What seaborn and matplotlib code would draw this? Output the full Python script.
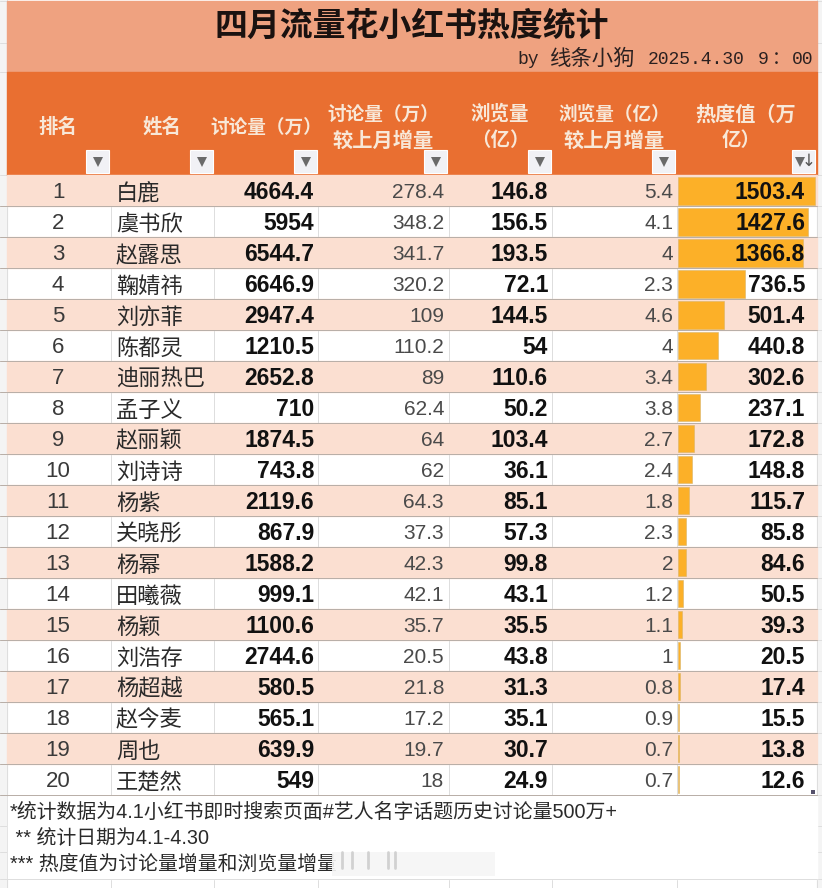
from matplotlib import pyplot as plt
from matplotlib import transforms
from matplotlib.patches import Rectangle
import seaborn as sns
import numpy as np

sns.set_theme(style='white')
CJK = ['Liberation Sans', 'Noto Sans CJK SC']
plt.rcParams['font.family'] = CJK

ranks = list(range(1, 21))
names = ['白鹿', '虞书欣', '赵露思', '鞠婧祎', '刘亦菲', '陈都灵', '迪丽热巴', '孟子义', '赵丽颖', '刘诗诗',
         '杨紫', '关晓彤', '杨幂', '田曦薇', '杨颖', '刘浩存', '杨超越', '赵今麦', '周也', '王楚然']
discuss = [4664.4, 5954, 6544.7, 6646.9, 2947.4, 1210.5, 2652.8, 710, 1874.5, 743.8,
           2119.6, 867.9, 1588.2, 999.1, 1100.6, 2744.6, 580.5, 565.1, 639.9, 549]
discuss_delta = [278.4, 348.2, 341.7, 320.2, 109, 110.2, 89, 62.4, 64, 62,
                 64.3, 37.3, 42.3, 42.1, 35.7, 20.5, 21.8, 17.2, 19.7, 18]
browse = [146.8, 156.5, 193.5, 72.1, 144.5, 54, 110.6, 50.2, 103.4, 36.1,
          85.1, 57.3, 99.8, 43.1, 35.5, 43.8, 31.3, 35.1, 30.7, 24.9]
browse_delta = [5.4, 4.1, 4, 2.3, 4.6, 4, 3.4, 3.8, 2.7, 2.4,
                1.8, 2.3, 2, 1.2, 1.1, 1, 0.8, 0.9, 0.7, 0.7]
heat = [1503.4, 1427.6, 1366.8, 736.5, 501.4, 440.8, 302.6, 237.1, 172.8, 148.8,
        115.7, 85.8, 84.6, 50.5, 39.3, 20.5, 17.4, 15.5, 13.8, 12.6]
title = '四月流量花小红书热度统计'
notes = ['*统计数据为4.1小红书即时搜索页面#艺人名字话题历史讨论量500万+',
         ' ** 统计日期为4.1-4.30',
         '*** 热度值为讨论量增量和浏览量增量']

W, H = 822, 888
col_edges = [7, 110.5, 214, 318, 448.5, 552, 677, 817]
row_edges = np.linspace(175.5, 795, 21)
extra_rows = [826, 852, 879]
GRID = '#B9AFA8'
LIGHT = '#DEDEDE'
BAND = '#EFA280'
HEAD = '#E96F31'
STRIPE = '#FBDFD1'
HEAD_TXT = '#F8E8D8'
PX = 0.72  # one pixel in points

fig = plt.figure(figsize=(W / 100, H / 100), dpi=100, facecolor='white')
ax = fig.add_axes([0, 0, 1, 1])
ax.set_xlim(0, W)
ax.set_ylim(H, 0)
ax.axis('off')

# spreadsheet margin and empty grid
ax.add_patch(Rectangle((0, 0), 7, H, color='#F4F4F4', zorder=0))
ax.add_patch(Rectangle((817, 0), 5, H, color='#F4F4F4', zorder=0))
for y in [1, 43, 72] + list(row_edges) + extra_rows:
    ax.plot([0, W], [y, y], color=LIGHT, lw=PX, zorder=0.5)
for x in [7, 817]:
    ax.plot([x, x], [0, H], color=LIGHT, lw=PX, zorder=0.5)
for x in col_edges[1:-1]:
    ax.plot([x, x], [879, H], color=LIGHT, lw=PX, zorder=0.5)

# title band and header
ax.add_patch(Rectangle((7, 1), 810, 71, color=BAND, zorder=1))
ax.add_patch(Rectangle((7, 72), 810, 103.5, color=HEAD, zorder=1))
ax.text(412, 26, title, fontsize=23.7, fontweight='bold', color='#1A1210', ha='center', va='center',
        family='Noto Sans CJK SC', zorder=3)
sub_style = dict(color='#2A2020', ha='left', va='center', zorder=3)
for x, s in [(517, 'by'), (648, '2025.4.30'), (758, '9'), (792, '00')]:
    ax.text(x, 60, s, fontsize=13, family='Liberation Mono', **sub_style)
ax.text(550, 59, '线条小狗', fontsize=15.4, family='Noto Sans CJK SC', **sub_style)
ax.text(772, 59, '：', fontsize=13, family='Noto Sans CJK SC', **sub_style)

headers = [(58, 127, '排名', 14), (162, 127, '姓名', 14), (266, 127, '讨论量（万）', 13.4),
           (383, 114, '讨论量（万）', 13.4), (383, 140, '较上月增量', 14.6),
           (500, 114, '浏览量', 14), (500, 140, '（亿）', 14),
           (614, 114, '浏览量（亿）', 13.4), (614, 140, '较上月增量', 14.6),
           (746, 114, '热度值（万', 14.5), (741, 140, '亿）', 14)]
for x, y, s, size in headers:
    ax.text(x, y, s, fontsize=size, fontweight='bold', color=HEAD_TXT, ha='center', va='center',
            family='Noto Sans CJK SC', zorder=3)

# filter buttons
for x in [86, 190, 294, 424, 528, 652, 792]:
    ax.add_patch(Rectangle((x, 150), 23, 23, facecolor='#F1F1F5', edgecolor='white', lw=0.8, zorder=2))
    mx = x + 11.5 if x != 792 else x + 8
    ax.plot(mx, 162, marker='v', color='#6A6A6A', ms=6.5, mew=0, zorder=3)
ax.text(809, 161, '↓', fontsize=12, color='#555555', ha='center', va='center', family='DejaVu Sans', zorder=3)

# striped rows
for i in range(20):
    top, bottom = row_edges[i], row_edges[i + 1]
    if i % 2 == 0:
        ax.add_patch(Rectangle((7, top), 810, bottom - top, color=STRIPE, zorder=1))
    else:
        for x in col_edges[1:-1]:
            ax.plot([x, x], [top, bottom], color=LIGHT, lw=PX, zorder=1.2)
    ax.plot([0, 817], [bottom, bottom], color=GRID, lw=PX, zorder=1.5)

# heat value bars live in their own axes over the last column
bar_ax = fig.add_axes([678 / W, 1 - 795 / H, 138 / W, (795 - 175.5) / H])
bar_ax.patch.set_visible(False)
sns.barplot(x=heat, y=names, orient='h', color='#FCB028', saturation=1, width=0.88,
            edgecolor='#D9B468', linewidth=0.4, ax=bar_ax)
bar_ax.set_xlim(0, 1503.4 * 138 / 137)
bar_ax.set_ylim(19.5, -0.5)
bar_ax.axis('off')
to_col = transforms.blended_transform_factory(ax.transData, bar_ax.transData)

for i in range(20):
    y = (row_edges[i] + row_edges[i + 1]) / 2 + 1.5
    ax.text(58, y, str(ranks[i]), fontsize=16, color='#3A3A3A', ha='center', va='center', zorder=3)
    ax.text(116, y + 1, names[i], fontsize=16, color='#2A2A2A', ha='left', va='center',
            family='Noto Sans CJK SC', zorder=3)
    ax.text(314, y, f'{discuss[i]:g}', fontsize=16.5, fontweight='bold', color='#111111',
            ha='right', va='center', zorder=3)
    ax.text(444, y, f'{discuss_delta[i]:g}', fontsize=15, color='#4A4A4A', ha='right', va='center', zorder=3)
    ax.text(548, y, f'{browse[i]:g}', fontsize=16.5, fontweight='bold', color='#111111',
            ha='right', va='center', zorder=3)
    ax.text(673, y, f'{browse_delta[i]:g}', fontsize=15, color='#4A4A4A', ha='right', va='center', zorder=3)
    bar_ax.text(805, i + 0.05, f'{heat[i]:g}', fontsize=16.5, fontweight='bold', color='#111111',
                ha='right', va='center', transform=to_col, zorder=5)

# size grip at the table corner
ax.plot(813, 791.5, marker='s', color='#55506A', ms=3.5, mew=0, zorder=3)

# notes under the table
ax.add_patch(Rectangle((7.5, 795.5), 809, 83, color='white', zorder=1))
ax.plot([7, 817], [879, 879], color=LIGHT, lw=PX, zorder=1.2)
for y, s in zip([812.5, 838.5, 864], notes):
    ax.text(10, y, s, fontsize=14.3, color='#2A2A2A', ha='left', va='center', family=CJK, zorder=3)

# blurred watermark over the end of the last note
ax.add_patch(Rectangle((332, 852), 163, 24, color='#F6F6F6', alpha=0.9, lw=0, zorder=4))
for x in [342, 352, 368, 388, 395]:
    ax.plot([x, x], [852, 868], color='#C8C8C8', lw=2, alpha=0.8, zorder=4.5)

plt.savefig('out.png', dpi=100)
